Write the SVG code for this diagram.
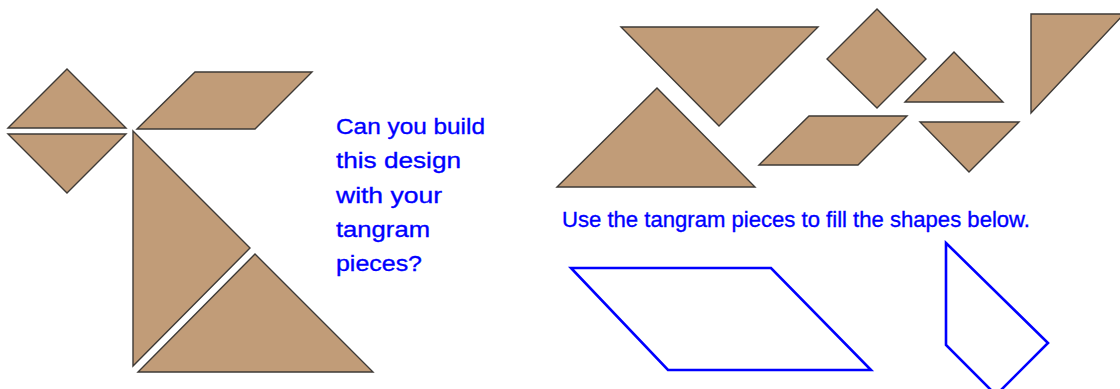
<svg xmlns="http://www.w3.org/2000/svg" width="1120" height="389" viewBox="0 0 1120 389">
<style>
.piece{fill:#c19c78;stroke:#3e3a36;stroke-width:1.4;stroke-linejoin:miter}
.outline{fill:none;stroke:#0000ff;stroke-width:2.6;stroke-linejoin:miter}
.txt{font-family:"Comic Sans MS","Liberation Sans",sans-serif;font-size:22px;fill:#0000ff;stroke:#0000ff;stroke-width:0.35}
</style>
<rect width="1120" height="389" fill="#ffffff"/>
<g id="design">
<polygon id="d-small-tri-top" class="piece" points="8,128 67,69 126,128"/>
<polygon id="d-small-tri-bottom" class="piece" points="8,134 126,134 67,193"/>
<polygon id="d-parallelogram" class="piece" points="137,129 195,72 312,72 255,129"/>
<polygon id="d-big-tri-1" class="piece" points="133,131 250,248 133,366"/>
<polygon id="d-big-tri-2" class="piece" points="255,254 373,372 138,372"/>
</g>
<g id="question">
<text class="txt" x="336" y="134" textLength="149" lengthAdjust="spacingAndGlyphs">Can you build</text>
<text class="txt" x="336" y="168" textLength="125" lengthAdjust="spacingAndGlyphs">this design</text>
<text class="txt" x="336" y="203" textLength="106" lengthAdjust="spacingAndGlyphs">with your</text>
<text class="txt" x="336" y="237" textLength="94" lengthAdjust="spacingAndGlyphs">tangram</text>
<text class="txt" x="336" y="271" textLength="86" lengthAdjust="spacingAndGlyphs">pieces?</text>
</g>
<g id="pieces">
<polygon id="p-big-tri-inv" class="piece" points="621,27 818,27 719,126"/>
<polygon id="p-big-tri" class="piece" points="557,187 657,88 755,187"/>
<polygon id="p-parallelogram" class="piece" points="759,165 809,116 907,116 858,165"/>
<polygon id="p-square" class="piece" points="877,9 926,59 877,108 827,59"/>
<polygon id="p-small-tri" class="piece" points="905,102 954,52 1003,102"/>
<polygon id="p-small-tri-inv" class="piece" points="920,122 1019,122 969,172"/>
<polygon id="p-medium-tri" class="piece" points="1031,14 1124,14 1031,113"/>
</g>
<g id="instruction">
<text class="txt" x="562" y="227" font-size="20" textLength="468" lengthAdjust="spacingAndGlyphs">Use the tangram pieces to fill the shapes below.</text>
</g>
<g id="targets">
<polygon id="t-parallelogram" class="outline" points="571,268 771,268 871,370 668,370"/>
<polygon id="t-kite" class="outline" points="946,243 1048,343 996,395 946,345"/>
</g>
</svg>
